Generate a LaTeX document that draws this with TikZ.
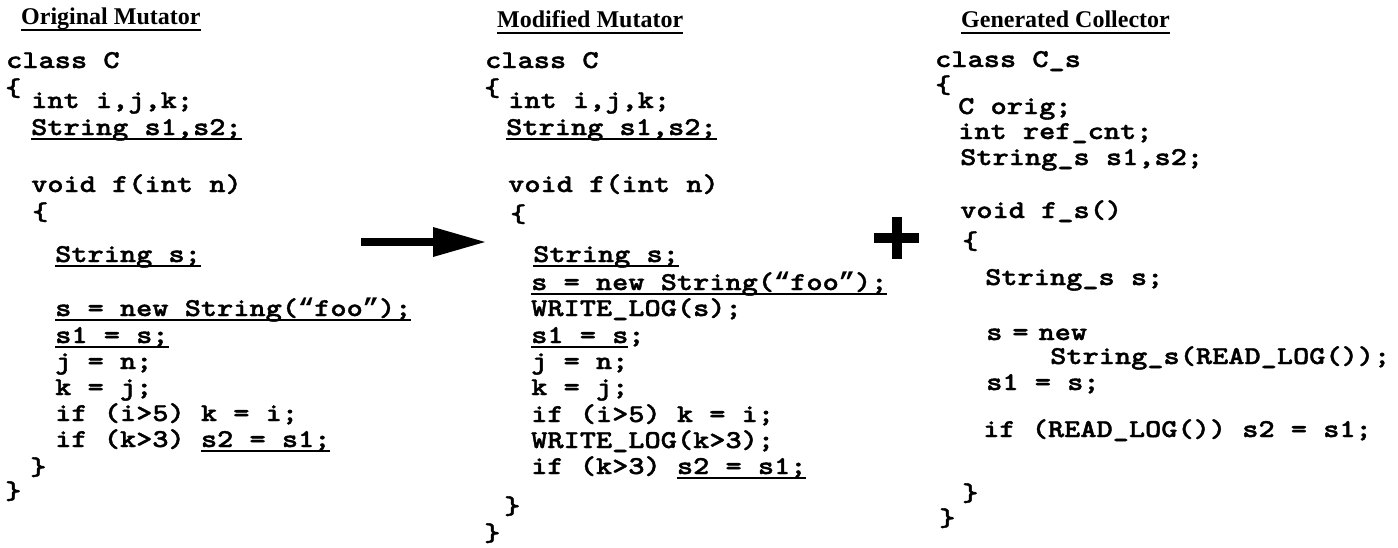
\documentclass[tikz,border=0pt]{standalone}
\usepackage{fontspec}
\newfontfamily\codefont{lmmonolt10-bold}[Extension=.otf, FakeStretch=1.2, FakeBold=1.5]
\newfontfamily\quotefont{Liberation Mono}[FakeStretch=1.05]
\newfontfamily\headfont{Liberation Serif}
% underline drawn just under the baseline, crossing descenders
\newcommand\ulcode[1]{\setbox0=\hbox{#1}\rlap{\rule[-4.5pt]{\wd0}{2pt}}\box0}
% curly quotes set in a full character cell
\newcommand\oq{\makebox[16.19pt]{\quotefont\bfseries “}}
\newcommand\cq{\makebox[16.19pt]{\quotefont\bfseries ”}}
\tikzset{
  codeln/.style={anchor=base west, inner sep=0pt,
    font=\codefont\fontsize{25.7}{25.7}\selectfont},
  headtext/.style={anchor=base west, inner sep=0pt,
    font=\headfont\bfseries\fontsize{24}{24}\selectfont},
  headrule/.style={line width=1.5pt},
  solidshape/.style={fill=black, draw=none},
}
\begin{document}
\begin{tikzpicture}[x=1pt,y=-1pt]
\useasboundingbox (0,0) rectangle (1398,547);

% ---------- column 1: original mutator ----------
\node[headtext] (h1) at (21,24) {Original Mutator};
\draw[headrule] ([yshift=-6pt]h1.base west) -- ([yshift=-6pt]h1.base east);

\node[codeln] (o1)  at (6,68)   {class C};
\node[codeln] (o2)  at (5,96)   {\{};
\node[codeln] (o3)  at (31,108) {int i,j,k;};
\node[codeln] (o4)  at (31,135) {\ulcode{String s1,s2;}};
\node[codeln] (o5)  at (31,192) {void f(int n)};
\node[codeln] (o6)  at (32,220) {\{};
\node[codeln] (o7)  at (55,262) {\ulcode{String s;}};
\node[codeln] (o8)  at (55,316) {\ulcode{s = new String(\oq foo\cq);}};
\node[codeln] (o9)  at (55,343) {\ulcode{s1 = s;}};
\node[codeln] (o10) at (55,369) {j = n;};
\node[codeln] (o11) at (55,395) {k = j;};
\node[codeln] (o12) at (55,421) {if (i>5) k = i;};
\node[codeln] (o13) at (55,447) {if (k>3) \ulcode{s2 = s1;}};
\node[codeln] (o14) at (30,475) {\}};
\node[codeln] (o15) at (5,499)  {\}};

% ---------- transformation arrow ----------
\coordinate (a0) at (361,242);
\coordinate (a1) at (433,242);
\coordinate (a2) at (485,242);
\fill[solidshape] ([yshift=4pt]a0) rectangle ([yshift=-4pt]a1);
\fill[solidshape] ([yshift=15pt]a1) -- (a2) -- ([yshift=-15pt]a1) -- cycle;

% ---------- column 2: modified mutator ----------
\node[headtext] (h2) at (497,27) {Modified Mutator};
\draw[headrule] ([yshift=-6pt]h2.base west) -- ([yshift=-6pt]h2.base east);

\node[codeln] (m1)  at (485,68)  {class C};
\node[codeln] (m2)  at (484,96)  {\{};
\node[codeln] (m3)  at (508,108) {int i,j,k;};
\node[codeln] (m4)  at (506,135) {\ulcode{String s1,s2;}};
\node[codeln] (m5)  at (508,192) {void f(int n)};
\node[codeln] (m6)  at (510,222) {\{};
\node[codeln] (m7)  at (533,262) {\ulcode{String s;}};
\node[codeln] (m8)  at (531,290) {\ulcode{s = new String(\oq foo\cq);}};
\node[codeln] (m9)  at (531,316) {WRITE\_LOG(s);};
\node[codeln] (m10) at (531,343) {\ulcode{s1 = s};};
\node[codeln] (m11) at (531,369) {j = n;};
\node[codeln] (m12) at (531,395) {k = j;};
\node[codeln] (m13) at (531,422) {if (i>5) k = i;};
\node[codeln] (m14) at (531,448) {WRITE\_LOG(k>3);};
\node[codeln] (m15) at (531,474) {if (k>3) \ulcode{s2 = s1;}};
\node[codeln] (m16) at (504,514) {\}};
\node[codeln] (m17) at (484,541) {\}};

% ---------- plus sign ----------
\coordinate (p) at (897,238);
\fill[solidshape] ([xshift=-23pt,yshift=5pt]p) rectangle ([xshift=22pt,yshift=-5pt]p);
\fill[solidshape] ([xshift=-5pt,yshift=21pt]p) rectangle ([xshift=5pt,yshift=-21pt]p);

% ---------- column 3: generated collector ----------
\node[headtext] (h3) at (961,27) {Generated Collector};
\draw[headrule] ([yshift=-6pt]h3.base west) -- ([yshift=-6pt]h3.base east);

\node[codeln] (g1)  at (935,67)   {class C\_s};
\node[codeln] (g2)  at (935,93)   {\{};
\node[codeln] (g3)  at (958,114)  {C orig;};
\node[codeln] (g4)  at (958,139)  {int ref\_cnt;};
\node[codeln] (g5)  at (960,165)  {String\_s s1,s2;};
\node[codeln] (g6)  at (960,218)  {void f\_s()};
\node[codeln] (g7)  at (962,249)  {\{};
\node[codeln] (g8)  at (985,285)  {String\_s s;};
\node[codeln] (g9)  at (986,340)  {s\hspace{10pt}=\hspace{10pt}new};
\node[codeln] (g10) at (1050,364) {String\_s(READ\_LOG());};
\node[codeln] (g11) at (986,390)  {s1 = s;};
\node[codeln] (g12) at (983,437)  {if (READ\_LOG()) s2 = s1;};
\node[codeln] (g13) at (962,501)  {\}};
\node[codeln] (g14) at (939,526)  {\}};
\end{tikzpicture}
\end{document}
